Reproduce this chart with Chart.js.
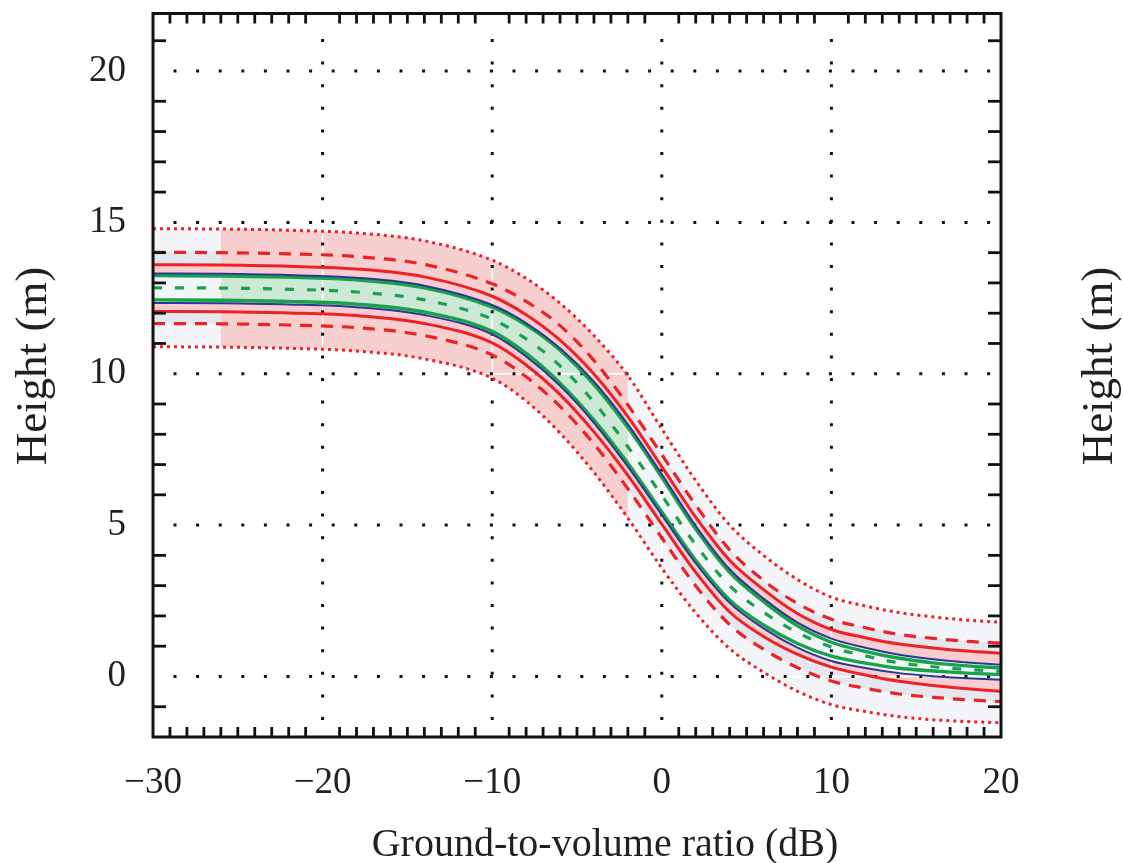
<!DOCTYPE html>
<html>
<head>
<meta charset="utf-8">
<script src="https://cdn.jsdelivr.net/npm/chart.js@4.4.1/dist/chart.umd.min.js"></script>
<style>
  html, body { margin: 0; padding: 0; background: #ffffff; }
  #wrap { width: 1123px; height: 863px; position: relative; }
</style>
</head>
<body>
<div id="wrap"><canvas id="chart"></canvas></div>
<script>
// ---- data ----
const xValues    = [-30, -26, -22, -18, -14, -10, -8, -6, -4, -2, 0, 2, 4, 6, 8, 10, 12, 14, 16, 18, 20];
const centerLine = [12.84, 12.83, 12.79, 12.70, 12.44, 11.80, 11.15, 10.26, 9.06, 7.59, 5.98, 4.35, 3.00, 2.12, 1.45, 0.97, 0.68, 0.45, 0.32, 0.23, 0.17];
const greenUpper = [13.24, 13.23, 13.19, 13.10, 12.84, 12.20, 11.61, 10.78, 9.64, 8.22, 6.58, 4.87, 3.44, 2.47, 1.67, 1.13, 0.83, 0.60, 0.45, 0.35, 0.28];
const greenLower = [12.44, 12.43, 12.39, 12.30, 12.04, 11.40, 10.67, 9.69, 8.47, 7.04, 5.43, 3.84, 2.53, 1.70, 1.09, 0.67, 0.44, 0.27, 0.18, 0.11, 0.06];
const blueUpper  = [13.31, 13.30, 13.26, 13.17, 12.91, 12.27, 11.67, 10.84, 9.74, 8.33, 6.68, 4.97, 3.54, 2.57, 1.78, 1.25, 0.95, 0.72, 0.57, 0.46, 0.39];
const blueLower  = [12.34, 12.33, 12.29, 12.20, 11.94, 11.30, 10.57, 9.60, 8.38, 6.93, 5.33, 3.74, 2.43, 1.59, 0.95, 0.51, 0.28, 0.11, 0.01, -0.06, -0.11];
const redUpper   = [13.60, 13.59, 13.55, 13.46, 13.20, 12.56, 11.95, 11.11, 9.99, 8.58, 6.93, 5.26, 3.84, 2.87, 2.08, 1.55, 1.28, 1.07, 0.94, 0.84, 0.77];
const redLower   = [12.06, 12.05, 12.01, 11.92, 11.66, 11.02, 10.29, 9.31, 8.08, 6.64, 5.03, 3.44, 2.13, 1.32, 0.73, 0.31, 0.05, -0.16, -0.30, -0.41, -0.49];
const dashUpper  = [14.01, 14.00, 13.96, 13.87, 13.61, 12.97, 12.39, 11.59, 10.44, 8.97, 7.33, 5.66, 4.18, 3.17, 2.41, 1.89, 1.61, 1.39, 1.26, 1.16, 1.10];
const dashLower  = [11.66, 11.65, 11.61, 11.52, 11.26, 10.62, 9.90, 8.92, 7.68, 6.20, 4.58, 2.99, 1.71, 0.90, 0.29, -0.15, -0.39, -0.58, -0.69, -0.77, -0.83];
const dotUpper   = [14.79, 14.78, 14.74, 14.65, 14.39, 13.75, 13.15, 12.33, 11.26, 9.94, 8.18, 6.47, 5.00, 4.00, 3.20, 2.62, 2.33, 2.11, 1.97, 1.86, 1.79];
const dotLower   = [10.89, 10.88, 10.84, 10.75, 10.49, 9.85, 9.10, 8.04, 6.74, 5.23, 3.58, 2.10, 0.92, 0.14, -0.49, -0.93, -1.16, -1.33, -1.43, -1.49, -1.53];

// x-range of the shaded (pink / green) block
const shadeRange = [-26, -2];

// axes
const xTickValues = [-30, -20, -10, 0, 10, 20];
const yTickValues = [0, 5, 10, 15, 20];
const xTitle = 'Ground-to-volume ratio (dB)';
const yTitle = 'Height (m)';

// ---- helpers ----
const pts  = arr => xValues.map((x, i) => ({ x: x, y: arr[i] }));
const part = arr => pts(arr).filter(p => p.x >= shadeRange[0] && p.x <= shadeRange[1]);

const RED = '#ec2227', BLUE = '#2b3990', GREEN = '#18a24b';
const SERIF = "'Liberation Serif', 'DejaVu Serif', serif";
const TXT = '#231f20';

function line(label, data, color, width, dash, order, extra) {
  return Object.assign({
    label: label, data: data, borderColor: color, borderWidth: width,
    borderDash: dash || [], borderCapStyle: 'butt', pointRadius: 0,
    cubicInterpolationMode: 'monotone', fill: false, order: order
  }, extra || {});
}
const hidden = 'rgba(0,0,0,0)';

const datasets = [
  /*0*/ line('center', pts(centerLine), GREEN, 3.2, [9, 13], 0),
  /*1*/ line('blueU', pts(blueUpper), BLUE, 2, null, 1),
  /*2*/ line('blueL', pts(blueLower), BLUE, 2, null, 1),
  /*3*/ line('greenU', pts(greenUpper), GREEN, 3.4, null, 2),
  /*4*/ line('greenL', pts(greenLower), GREEN, 3.4, null, 2),
  /*5*/ line('redU', pts(redUpper), RED, 3, null, 3, { fill: 1, backgroundColor: '#f8cdd1' }),
  /*6*/ line('redL', pts(redLower), RED, 3, null, 3, { fill: 2, backgroundColor: '#f8cdd1' }),
  /*7*/ line('greenShadeU', part(greenUpper), hidden, 1, null, 4, { fill: 8, backgroundColor: '#cde8d5' }),
  /*8*/ line('greenShadeL', part(greenLower), hidden, 1, null, 4),
  /*9*/ line('pinkShadeU', part(dotUpper), hidden, 1, null, 5, { fill: 10, backgroundColor: '#f7cfcf' }),
  /*10*/ line('pinkShadeL', part(dotLower), hidden, 1, null, 5),
  /*11*/ line('dashU', pts(dashUpper), RED, 3.2, [12, 9], 6, { fill: 5, backgroundColor: '#e4e7ed' }),
  /*12*/ line('dashL', pts(dashLower), RED, 3.2, [12, 9], 6, { fill: 6, backgroundColor: '#e4e7ed' }),
  /*13*/ line('dotU', pts(dotUpper), RED, 3, [3, 4], 7, { fill: 14, backgroundColor: '#f3f5f8' }),
  /*14*/ line('dotL', pts(dotLower), RED, 3, [3, 4], 7)
];

// grid lines over fills (white hairline + black dots)
const gridPlugin = {
  id: 'dotGrid',
  beforeDatasetsDraw(chart) {
    const { ctx, chartArea: a, scales } = chart;
    const xs = xTickValues.filter(v => v > scales.x.min && v < scales.x.max);
    const ys = yTickValues;
    ctx.save();
    ctx.beginPath(); ctx.rect(a.left, a.top, a.right - a.left, a.bottom - a.top); ctx.clip();
    ctx.strokeStyle = '#ffffff'; ctx.lineWidth = 1.4;
    xs.forEach(v => { const p = scales.x.getPixelForValue(v); ctx.beginPath(); ctx.moveTo(p, a.top); ctx.lineTo(p, a.bottom); ctx.stroke(); });
    ys.forEach(v => { const p = scales.y.getPixelForValue(v); ctx.beginPath(); ctx.moveTo(a.left, p); ctx.lineTo(a.right, p); ctx.stroke(); });
    ctx.strokeStyle = '#111111'; ctx.lineWidth = 3; ctx.setLineDash([3, 19.6]);
    xs.forEach(v => { const p = scales.x.getPixelForValue(v); ctx.beginPath(); ctx.moveTo(p, a.top + 25.5); ctx.lineTo(p, a.bottom); ctx.stroke(); });
    ys.forEach(v => { const p = scales.y.getPixelForValue(v); ctx.beginPath(); ctx.moveTo(a.left + 20.5, p); ctx.lineTo(a.right, p); ctx.stroke(); });
    ctx.restore();
  }
};

// frame and inward minor tick marks, titles
const framePlugin = {
  id: 'frame',
  afterDatasetsDraw(chart) {
    const { ctx, chartArea: a, scales } = chart;
    ctx.save();
    ctx.strokeStyle = '#111111';
    ctx.lineWidth = 2.8;
    for (let v = Math.ceil(scales.x.min) + 1; v < scales.x.max; v++) {
      if (v % 10 === 0) continue;
      const p = scales.x.getPixelForValue(v);
      ctx.beginPath(); ctx.moveTo(p, a.top); ctx.lineTo(p, a.top + 10); ctx.stroke();
      ctx.beginPath(); ctx.moveTo(p, a.bottom); ctx.lineTo(p, a.bottom - 10); ctx.stroke();
    }
    for (let v = Math.ceil(scales.y.min) + 1; v < scales.y.max; v++) {
      if (v % 5 === 0) continue;
      const p = scales.y.getPixelForValue(v);
      ctx.beginPath(); ctx.moveTo(a.left, p); ctx.lineTo(a.left + 13, p); ctx.stroke();
      ctx.beginPath(); ctx.moveTo(a.right, p); ctx.lineTo(a.right - 13, p); ctx.stroke();
    }
    ctx.lineWidth = 3;
    ctx.strokeRect(a.left, a.top, a.right - a.left, a.bottom - a.top);
    ctx.restore();
  },
  afterDraw(chart) {
    const { ctx } = chart;
    ctx.save();
    ctx.fillStyle = TXT;
    ctx.textAlign = 'center';
    ctx.textBaseline = 'middle';
    ctx.font = '40px ' + SERIF;
    ctx.fillText(xTitle, 605, 845);
    ctx.font = '45px ' + SERIF;
    const midY = 366;
    [34, 1100].forEach(cx => {
      ctx.save(); ctx.translate(cx, midY); ctx.rotate(-Math.PI / 2);
      ctx.fillText(yTitle, 0, 0); ctx.restore();
    });
    ctx.restore();
  }
};

const fmt = v => (v < 0 ? '\u2212' + Math.abs(v) : String(v));

new Chart(document.getElementById('chart'), {
  type: 'line',
  data: { datasets: datasets },
  options: {
    responsive: true,
    maintainAspectRatio: false,
    devicePixelRatio: 1,
    animation: false,
    events: [],
    layout: { padding: { top: 13.5, right: 122, left: 0, bottom: 0 } },
    plugins: {
      legend: { display: false },
      tooltip: { enabled: false },
      filler: { drawTime: 'beforeDatasetsDraw', propagate: false }
    },
    scales: {
      x: {
        type: 'linear', position: 'bottom', min: -30, max: 20,
        grid: { display: false, drawTicks: false },
        border: { display: false },
        ticks: {
          stepSize: 10, autoSkip: false, maxRotation: 0, includeBounds: false,
          padding: 24, color: TXT, font: { family: SERIF, size: 37 },
          callback: v => (xTickValues.includes(v) ? fmt(v) : '')
        },
        afterFit: s => { s.height = 126; s.paddingLeft = 0; s.paddingRight = 0; }
      },
      y: {
        type: 'linear', position: 'left', min: -2, max: 21.9,
        grid: { display: false, drawTicks: false },
        border: { display: false },
        ticks: {
          stepSize: 5, autoSkip: false, includeBounds: false,
          padding: 27, color: TXT, font: { family: SERIF, size: 37 },
          callback: v => (yTickValues.includes(v) ? fmt(v) : '')
        },
        afterFit: s => { s.width = 153; s.paddingTop = 0; s.paddingBottom = 0; }
      }
    }
  },
  plugins: [gridPlugin, framePlugin]
});
</script>
</body>
</html>
